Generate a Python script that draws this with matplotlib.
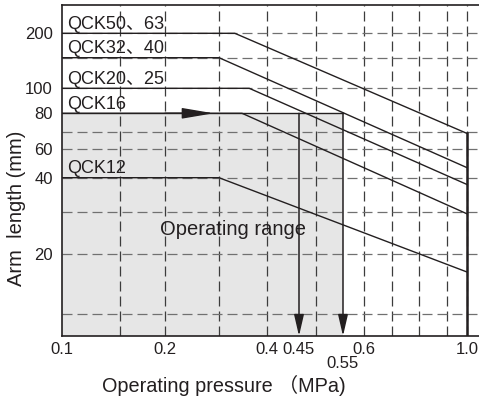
import numpy as np
import matplotlib
matplotlib.use("Agg")
import matplotlib.pyplot as plt

plt.rcParams['font.family'] = ['Liberation Sans', 'Noto Sans CJK SC']

# series: horizontal part up to the knee pressure, then straight down to 1.0 MPa
series_names = ["QCK50、63", "QCK32、40", "QCK20、25", "QCK16", "QCK12"]
hold_length = [200, 150, 100, 80, 40]
knee_pressure = [0.333, 0.30, 0.363, 0.348, 0.30]
end_length = [69, 47, 38, 29.5, 17]

# the drawing uses an irregular hand-made scale: value -> position
x_scale_val = [0.1, 0.15, 0.2, 0.3, 0.4, 0.45, 0.5, 0.55, 0.6, 0.7, 0.8, 0.9, 1.0, 1.05]
x_scale_pos = [62, 120, 165, 219, 267, 299, 316, 343, 364, 392, 419, 447, 467, 479]
y_scale_val = [8, 10, 20, 30, 40, 60, 70, 80, 100, 150, 200, 250]
y_scale_pos = [336, 314, 254, 211.7, 177.7, 149, 131.7, 113.3, 88.3, 57.7, 33.3, 5]

x_grid = [0.15, 0.2, 0.3, 0.4, 0.5, 0.6, 0.7, 0.8, 0.9, 1.0]
y_grid = [10, 20, 30, 40, 60, 70, 100, 150, 200]
x_ticks = [0.1, 0.2, 0.4, 0.45, 0.6, 1.0]
x_ticklabels = ["0.1", "0.2", "0.4", "0.45", "0.6", "1.0"]
y_ticks = [20, 40, 60, 80, 100, 200]

range_limit = 0.55   # upper edge of operating range
range_length = 80
marked_pressure = [0.45, 0.55]

ink = '#231f20'

xv = np.array(x_scale_val, float)
xp = np.array(x_scale_pos, float)
yv = np.array(y_scale_val, float)
yp = -np.array(y_scale_pos, float)

def fwd_x(v):
    return np.interp(v, xv, xp)
def inv_x(u):
    return np.interp(u, xp, xv)
def fwd_y(v):
    return np.interp(v, yv, yp)
def inv_y(u):
    return np.interp(u, yp, yv)

fig = plt.figure(figsize=(4.79, 4.0), dpi=100)
ax = fig.add_axes([62/479, 64/400, 417/479, 331/400])
ax.set_xscale('function', functions=(fwd_x, inv_x))
ax.set_yscale('function', functions=(fwd_y, inv_y))
ax.set_xlim(x_scale_val[0], x_scale_val[-1])
ax.set_ylim(y_scale_val[0], y_scale_val[-1])

# operating range shading
ax.fill_between([x_scale_val[0], range_limit], [y_scale_val[0]]*2, [range_length]*2,
                color='#e6e6e6', lw=0, zorder=0)

for g in x_grid:
    ax.axvline(g, color='#3c3c3c', lw=0.9, ls=(0, (8, 4)), zorder=1)
for g in y_grid:
    ax.axhline(g, color='#707070', lw=0.9, ls=(0, (8, 4)), zorder=1)

ax.plot([x_scale_val[0], range_limit], [range_length, range_length], color=ink, lw=1.0, zorder=3)

for name, h, k, e in zip(series_names, hold_length, knee_pressure, end_length):
    ax.plot([x_scale_val[0], k, 1.0], [h, h, e], color=ink, lw=1.0, zorder=3)
    ax.annotate(name, xy=(x_scale_val[0], h), xytext=(3.6, 3.3), textcoords='offset points',
                ha='left', va='baseline', fontsize=13, color=ink)

# solid line at 1.0 MPa
ax.plot([1.0, 1.0], [end_length[0], y_scale_val[0]], color=ink, lw=1.8, zorder=3)

# arrows
for p in marked_pressure:
    ax.annotate('', xy=(p, y_scale_val[0]), xytext=(p, range_length),
                arrowprops=dict(arrowstyle='-|>,head_length=1.3,head_width=0.3', color=ink,
                                lw=1.1, shrinkA=0, shrinkB=0, mutation_scale=10), zorder=4)
ax.annotate('', xy=(0.29, range_length), xytext=(0.2, range_length),
            arrowprops=dict(arrowstyle='-|>,head_length=1.95,head_width=0.33', color=ink,
                            lw=1.0, shrinkA=0, shrinkB=0, mutation_scale=10), zorder=4)

ax.text(0.329, 25.9, "Operating range", ha='center', va='center', fontsize=14.5, color=ink)

ax.set_xticks(x_ticks)
ax.set_xticklabels(x_ticklabels)
ax.set_yticks(y_ticks)
ax.set_yticklabels([str(t) for t in y_ticks])
ax.minorticks_off()
ax.tick_params(length=0, labelsize=12, colors=ink)
ax.tick_params(axis='x', pad=4)
ax.tick_params(axis='y', pad=6.5)
ax.text(0.55, -0.082, "0.55", transform=ax.get_xaxis_transform(), ha='center', va='center',
        fontsize=12, color=ink)

ax.spines['right'].set_visible(False)
for s in ['top', 'left', 'bottom']:
    ax.spines[s].set_linewidth(1.2)
    ax.spines[s].set_color(ink)
    ax.spines[s].set_zorder(5)

fig.text(224/479, 1 - 385/400, "Operating pressure （MPa)", ha='center', va='center',
         fontsize=14.3, color=ink)
fig.text(17/479, 1 - 208/400, "Arm  length (mm)", ha='center', va='center', rotation=90,
         fontsize=14.5, color=ink)

fig.savefig("out.png", dpi=100)
